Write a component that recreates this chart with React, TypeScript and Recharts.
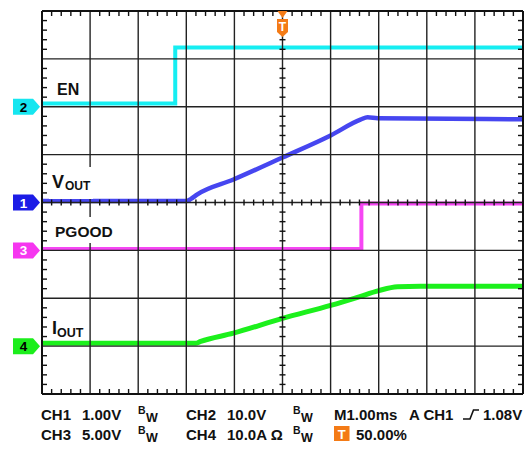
import {
  ComposedChart,
  Line,
  Scatter,
  XAxis,
  YAxis,
  ReferenceLine,
  ReferenceDot,
} from "recharts";

const FONT = '"Liberation Sans", Arial, Helvetica, sans-serif';

// channel settings: units per division and ground marker position (divisions)
const CH1_SCALE = 1;
const CH1_GND = 0;
const CH2_SCALE = 10;
const CH2_GND = 2;
const CH3_SCALE = 5;
const CH3_GND = -1;
const CH4_SCALE = 10;
const CH4_GND = -3;

// time in ms (1 ms/div, trigger at centre)
const voutTime = [-5, -2.0, -1.91, -1.77, -1.02, 0, 1.0, 1.62, 1.77, 1.98, 5];
const voutVolts = [0.03, 0.03, 0.07, 0.17, 0.48, 0.94, 1.4, 1.73, 1.78, 1.76, 1.74];

const enTime = [-5, -2.23, -2.23, 5];
const enVolts = [0.7, 0.7, 12.4, 12.4];

const pgoodTime = [-5, 1.64, 1.64, 5];
const pgoodVolts = [0.15, 0.15, 4.9, 4.9];

const ioutTime = [-5, -1.81, -1.7, -1.02, 0, 1.0, 1.56, 2.0, 2.39, 2.87, 5];
const ioutAmps = [0.6, 0.6, 1.0, 2.7, 5.8, 8.5, 10.2, 11.6, 12.4, 12.5, 12.5];

const majorT = [-5, -4, -3, -2, -1, 0, 1, 2, 3, 4, 5];
const majorV = [-4, -3, -2, -1, 0, 1, 2, 3, 4];

function toDiv(times: number[], values: number[], scale: number, gnd: number) {
  return times.map((t, i) => ({ t, v: gnd + values[i] / scale }));
}

// graticule minor ticks every 1/5 division
function minor(from: number, to: number) {
  const out: number[] = [];
  for (let i = Math.round(from * 5) + 1; i < Math.round(to * 5); i++) {
    if (i % 5 !== 0) out.push(i / 5);
  }
  return out;
}
const minorT = minor(-5, 5);
const minorV = minor(-4, 4);

const topTicks = minorT.map((t) => ({ t, v: 4 }));
const bottomTicks = minorT.map((t) => ({ t, v: -4 }));
const midHTicks = minorT.map((t) => ({ t, v: 0 }));
const leftTicks = minorV.map((v) => ({ t: -5, v }));
const rightTicks = minorV.map((v) => ({ t: 5, v }));
const midVTicks = minorV.map((v) => ({ t: 0, v }));

const GRID = "#222";

const tick = (dx1: number, dy1: number, dx2: number, dy2: number) => (p: any) => (
  <line
    x1={p.cx + dx1}
    y1={p.cy + dy1}
    x2={p.cx + dx2}
    y2={p.cy + dy2}
    stroke="#111"
    strokeWidth={1.4}
  />
);

const chMarker = (fill: string, label: string, textColor: string) => (p: any) => {
  const x = p.cx;
  const y = p.cy;
  return (
    <g>
      <polygon
        points={`${x - 29},${y - 8} ${x - 9},${y - 8} ${x - 2},${y} ${x - 9},${y + 8} ${x - 29},${y + 8}`}
        fill={fill}
      />
      <text
        x={x - 18.5}
        y={y + 5}
        textAnchor="middle"
        fontFamily={FONT}
        fontWeight="bold"
        fontSize={13.5}
        fill={textColor}
      >
        {label}
      </text>
    </g>
  );
};

const trigMarker = (p: any) => {
  const x = p.cx;
  const y = p.cy;
  return (
    <g>
      <polygon points={`${x - 5},${y} ${x + 5},${y} ${x},${y + 7}`} fill="#f47b16" />
      <polygon
        points={`${x - 5.5},${y + 8} ${x + 5.5},${y + 8} ${x + 5.5},${y + 21} ${x},${y + 26} ${x - 5.5},${y + 21}`}
        fill="#f47b16"
      />
      <text
        x={x}
        y={y + 20}
        textAnchor="middle"
        fontFamily={FONT}
        fontWeight="bold"
        fontSize={12}
        fill="#fff"
      >
        T
      </text>
    </g>
  );
};

function Bw({ x, y }: { x: number; y: number }) {
  return (
    <>
      <text x={x} y={y - 6} fontSize={10.5}>
        B
      </text>
      <text x={x + 8} y={y + 2.5} fontSize={12.5}>
        W
      </text>
    </>
  );
}

export default function App() {
  return (
    <div
      style={{
        position: "absolute",
        left: 0,
        top: 0,
        width: 530,
        height: 451,
        background: "#fff",
      }}
    >
      <ComposedChart
        width={530}
        height={451}
        margin={{ top: 11, right: 7, bottom: 57, left: 42 }}
      >
        <XAxis type="number" dataKey="t" domain={[-5, 5]} hide allowDataOverflow />
        <YAxis type="number" dataKey="v" domain={[-4, 4]} hide allowDataOverflow />

        <Line data={toDiv(enTime, enVolts, CH2_SCALE, CH2_GND)} dataKey="v" type="linear"
          stroke="#16eef2" strokeWidth={4} dot={false} isAnimationActive={false} />
        <Line data={toDiv(voutTime, voutVolts, CH1_SCALE, CH1_GND)} dataKey="v" type="monotone"
          stroke="#4646f0" strokeWidth={4.5} dot={false} isAnimationActive={false} />
        <Line data={toDiv(pgoodTime, pgoodVolts, CH3_SCALE, CH3_GND)} dataKey="v" type="linear"
          stroke="#f646f4" strokeWidth={4} dot={false} isAnimationActive={false} />
        <Line data={toDiv(ioutTime, ioutAmps, CH4_SCALE, CH4_GND)} dataKey="v" type="monotone"
          stroke="#1cf01c" strokeWidth={5} dot={false} isAnimationActive={false} />

        {majorT.slice(1, -1).map((t) => (
          <ReferenceLine key={"x" + t} x={t} stroke={GRID} strokeWidth={1.4} />
        ))}
        {majorV.slice(1, -1).map((v) => (
          <ReferenceLine key={"y" + v} y={v} stroke={GRID} strokeWidth={1.4} />
        ))}
        <ReferenceLine x={-5} stroke="#111" strokeWidth={2} />
        <ReferenceLine x={5} stroke="#111" strokeWidth={2} />
        <ReferenceLine y={4} stroke="#111" strokeWidth={2} />
        <ReferenceLine y={-4} stroke="#111" strokeWidth={2} />

        <Scatter data={topTicks} dataKey="v" shape={tick(0, 0, 0, 5)} isAnimationActive={false} />
        <Scatter data={bottomTicks} dataKey="v" shape={tick(0, -5, 0, 0)} isAnimationActive={false} />
        <Scatter data={midHTicks} dataKey="v" shape={tick(0, -3, 0, 3)} isAnimationActive={false} />
        <Scatter data={leftTicks} dataKey="v" shape={tick(0, 0, 5, 0)} isAnimationActive={false} />
        <Scatter data={rightTicks} dataKey="v" shape={tick(-5, 0, 0, 0)} isAnimationActive={false} />
        <Scatter data={midVTicks} dataKey="v" shape={tick(-3, 0, 3, 0)} isAnimationActive={false} />

        <ReferenceDot x={-5} y={CH2_GND} shape={chMarker("#16e6f0", "2", "#000")} />
        <ReferenceDot x={-5} y={CH1_GND} shape={chMarker("#1c1ce6", "1", "#fff")} />
        <ReferenceDot x={-5} y={CH3_GND} shape={chMarker("#f636f0", "3", "#fff")} />
        <ReferenceDot x={-5} y={CH4_GND} shape={chMarker("#1cee1c", "4", "#000")} />
        <ReferenceDot x={0} y={4} shape={trigMarker} />
      </ComposedChart>

      <svg
        width={530}
        height={451}
        style={{ position: "absolute", left: 0, top: 0, pointerEvents: "none" }}
        fontFamily={FONT}
        fontWeight="bold"
        fill="#111"
      >
        {/* trace labels */}
        <text x={57} y={95} fontSize={16}>EN</text>
        <rect x={49} y={167} width={44} height={32} fill="#fff" />
        <text x={52} y={188} fontSize={18}>V</text>
        <text x={65} y={189.5} fontSize={12}>OUT</text>
        <rect x={51} y={217} width={66} height={26} fill="#fff" />
        <text x={55} y={236.5} fontSize={15.5}>PGOOD</text>
        <text x={52} y={334} fontSize={18}>I</text>
        <text x={57} y={337} fontSize={12.5}>OUT</text>

        {/* status line */}
        <g fontSize={15}>
          <text x={41} y={419.5}>CH1</text>
          <text x={82} y={419.5}>1.00V</text>
          <Bw x={138} y={419.5} />
          <text x={186} y={419.5}>CH2</text>
          <text x={227} y={419.5}>10.0V</text>
          <Bw x={293} y={419.5} />
          <text x={334} y={419.5}>M1.00ms</text>
          <text x={409} y={419.5}>A CH1</text>
          <polyline
            points="463,419 470,419 473.5,410 479,410"
            fill="none"
            stroke="#111"
            strokeWidth={1.6}
          />
          <text x={483} y={419.5}>1.08V</text>

          <text x={41} y={439.5}>CH3</text>
          <text x={82} y={439.5}>5.00V</text>
          <Bw x={138} y={439.5} />
          <text x={186} y={439.5}>CH4</text>
          <text x={227} y={439.5}>10.0A Ω</text>
          <Bw x={293} y={439.5} />
          <rect x={334} y={426} width={15.5} height={15} fill="#f47b16" />
          <text x={341.7} y={439} fontSize={13} fill="#fff" textAnchor="middle">T</text>
          <text x={356} y={439.5}>50.00%</text>
        </g>
      </svg>
    </div>
  );
}
